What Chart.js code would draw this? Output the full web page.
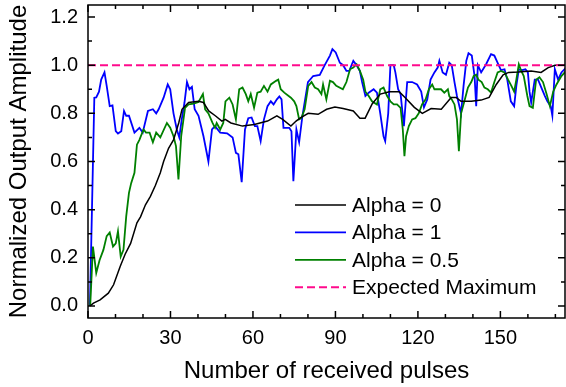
<!DOCTYPE html>
<html><head><meta charset="utf-8">
<script src="https://cdn.jsdelivr.net/npm/chart.js@4/dist/chart.umd.min.js"></script>
<style>html,body{margin:0;padding:0;background:#fff}</style>
</head><body>
<canvas id="c" width="566" height="387" style="width:566px;height:387px;display:block"></canvas>
<script>
const xTicks = [0, 30, 60, 90, 120, 150];
const yTicks = [0, 0.2, 0.4, 0.6, 0.8, 1.0, 1.2];
const xMinorTicks = [10, 20, 40, 50, 70, 80, 100, 110, 130, 140, 160, 170];
const yMinorTicks = [0.1, 0.3, 0.5, 0.7, 0.9, 1.1];
const seriesLabels = ['Alpha = 0', 'Alpha = 1', 'Alpha = 0.5', 'Expected Maximum'];

const alpha0X = [0.7, 2, 4.4, 7.4, 9.3, 11.7, 13.5, 15.5, 17.8, 19.1, 20.9, 22.7, 24.5, 26.3, 27.5, 29.3, 31.1, 33, 34.2, 36.6, 40.2, 42, 43.9, 46.3, 48.7, 49.9, 52, 56.2, 60.5, 65.3, 68.7, 70.8, 73.8, 75.7, 77.1, 80.1, 83.7, 86.8, 89.8, 92.8, 96.5, 98.9, 100.8, 103.4, 106.3, 109.6, 113.2, 115.4, 118.7, 121.6, 124.8, 128.5, 132.1, 133.9, 135.7, 139.4, 143, 145.9, 148.5, 151, 153, 156.5, 161.2, 164.8, 167.4, 169.9, 173.5];
const alpha0Y = [0, 0.012, 0.025, 0.053, 0.088, 0.164, 0.215, 0.26, 0.345, 0.37, 0.42, 0.455, 0.50, 0.553, 0.60, 0.655, 0.69, 0.76, 0.817, 0.845, 0.85, 0.845, 0.81, 0.79, 0.768, 0.775, 0.76, 0.747, 0.754, 0.768, 0.79, 0.775, 0.747, 0.768, 0.78, 0.80, 0.796, 0.817, 0.826, 0.82, 0.81, 0.78, 0.78, 0.84, 0.88, 0.89, 0.89, 0.865, 0.825, 0.80, 0.82, 0.817, 0.866, 0.866, 0.85, 0.85, 0.855, 0.866, 0.92, 0.96, 0.97, 0.972, 0.976, 0.97, 0.99, 1.0, 1.0];

const alpha1X = [0.7, 2.3, 3.0, 4.0, 4.8, 6.0, 6.8, 7.9, 8.9, 10.1, 10.9, 12.1, 13.1, 13.9, 14.9, 16.9, 18.7, 19.9, 21.8, 23.6, 24.8, 25.7, 27.5, 29, 29.9, 31.1, 32.3, 33.2, 34.1, 35.1, 36, 36.9, 37.8, 38.8, 40.2, 42, 43.8, 45.1, 46.2, 48.1, 50.6, 52.6, 53.8, 54.7, 55.9, 57.1, 58.3, 59.5, 60.7, 61.6, 62.8, 64, 65.3, 66.5, 67.5, 68.7, 69.6, 70.4, 71.1, 73.2, 74, 74.7, 75.8, 76.8, 78, 80, 81.9, 84.3, 86.1, 88, 88.9, 90.1, 91.6, 92.8, 94, 95, 96.5, 97.7, 98.9, 99.7, 100.9, 102.1, 103.9, 105.1, 106.3, 107.5, 108.1, 109.2, 110, 111.2, 111.8, 112.8, 113.7, 114.9, 116.1, 117.9, 119.7, 121.2, 122.2, 123.4, 124.6, 126, 127.2, 127.8, 129, 130.2, 131.4, 132.3, 133.3, 134.2, 135.7, 136.6, 137.6, 138.4, 139.6, 140.6, 141.2, 141.8, 143, 144.8, 146.6, 147.8, 149, 150.2, 151.5, 152.5, 153.8, 155, 155.8, 156.7, 157.9, 159.1, 160, 160.6, 161.2, 162.5, 163.7, 164.9, 166.2, 167.1, 168.3, 168.9, 169.8, 171, 172.2, 173.9];
const alpha1Y = [0, 0.865, 0.866, 0.89, 0.94, 0.97, 0.914, 0.83, 0.833, 0.726, 0.716, 0.726, 0.81, 0.79, 0.79, 0.72, 0.74, 0.72, 0.81, 0.817, 0.80, 0.817, 0.865, 0.92, 0.90, 0.80, 0.733, 0.70, 0.775, 0.845, 0.93, 0.90, 0.91, 0.817, 0.79, 0.705, 0.60, 0.733, 0.747, 0.72, 0.717, 0.70, 0.636, 0.63, 0.514, 0.733, 0.78, 0.783, 0.747, 0.747, 0.685, 0.775, 0.83, 0.85, 0.837, 0.858, 0.87, 0.858, 0.74, 0.74, 0.726, 0.518, 0.733, 0.68, 0.79, 0.93, 0.955, 0.96, 1.0, 1.04, 1.067, 1.053, 1.01, 1.0, 0.976, 0.976, 1.018, 1.0, 0.976, 0.93, 0.872, 0.886, 0.90, 0.886, 0.80, 0.705, 0.685, 0.80, 1.0, 1.0, 0.97, 0.90, 0.88, 0.747, 0.93, 0.93, 0.92, 0.89, 0.825, 0.858, 0.94, 0.97, 0.99, 1.018, 0.97, 0.96, 1.01, 1.0, 0.93, 0.872, 0.80, 0.914, 1.018, 1.05, 1.04, 0.955, 0.83, 1.0, 0.97, 1.004, 1.046, 1.04, 1.01, 0.98, 0.983, 0.94, 0.85, 0.83, 0.914, 0.983, 0.98, 0.983, 0.97, 0.89, 0.845, 0.94, 0.94, 0.907, 0.872, 0.85, 0.83, 0.79, 0.983, 0.94, 0.97, 0.99];

const alpha05X = [0.8, 1.8, 3.0, 4.2, 5.6, 6.8, 7.9, 9.1, 10.1, 10.9, 11.9, 12.9, 13.9, 14.9, 15.7, 16.9, 17.8, 18.7, 20.2, 21.1, 22.4, 23.6, 24.8, 26.3, 28.7, 29.9, 31.1, 32, 32.9, 33.9, 35.3, 36.6, 38.4, 40.2, 41.8, 42.6, 43.8, 45.3, 46.2, 46.8, 48.1, 49.2, 50, 51.4, 52.6, 53.8, 55, 56.2, 57.4, 58.3, 59.2, 60.4, 61.6, 62.8, 64, 65.3, 66.5, 68.4, 69.2, 70.1, 71.4, 73.8, 75, 75.8, 76.8, 77.6, 78.8, 80.1, 81.3, 82.5, 83.7, 84.9, 85.5, 86.7, 88, 89.1, 90.3, 92.7, 94, 95.3, 96.5, 97.7, 98.9, 100.1, 100.9, 102.1, 103.3, 105.1, 106.3, 107.5, 108.8, 110, 111.2, 112.4, 113.7, 114.5, 115.1, 115.7, 116.7, 117.9, 119.1, 120.3, 121.5, 122.8, 124, 125.2, 126, 128.4, 129.6, 130.9, 131.4, 132.3, 133.3, 134.2, 134.9, 135.7, 136.9, 138.2, 139.4, 140.3, 141.2, 142, 143.2, 144.2, 145.4, 146.6, 147.8, 149, 150.2, 151.5, 152.8, 154, 155, 155.8, 156.7, 157.6, 158.5, 159.8, 160.6, 161.8, 163, 164.2, 165.5, 166.8, 168, 169.2, 170.4, 172.2, 173.9];
const alpha05Y = [0, 0.247, 0.137, 0.19, 0.233, 0.29, 0.305, 0.247, 0.26, 0.31, 0.205, 0.233, 0.372, 0.47, 0.51, 0.553, 0.67, 0.69, 0.733, 0.72, 0.72, 0.68, 0.72, 0.70, 0.76, 0.74, 0.705, 0.664, 0.525, 0.705, 0.823, 0.837, 0.84, 0.847, 0.88, 0.817, 0.80, 0.76, 0.74, 0.76, 0.733, 0.76, 0.85, 0.865, 0.837, 0.775, 0.90, 0.907, 0.88, 0.85, 0.88, 0.823, 0.886, 0.89, 0.914, 0.89, 0.92, 0.935, 0.94, 0.90, 0.886, 0.865, 0.85, 0.83, 0.775, 0.78, 0.817, 0.914, 0.93, 0.907, 0.90, 0.88, 0.92, 0.858, 0.935, 0.93, 0.914, 0.90, 0.93, 0.983, 0.99, 1.004, 0.976, 0.94, 0.89, 0.872, 0.85, 0.837, 0.90, 0.907, 0.872, 0.85, 0.837, 0.837, 0.823, 0.733, 0.622, 0.705, 0.747, 0.775, 0.78, 0.80, 0.837, 0.858, 0.90, 0.92, 0.90, 0.90, 0.886, 0.90, 0.872, 0.858, 0.837, 0.775, 0.643, 0.80, 0.85, 0.907, 0.93, 0.955, 0.96, 0.94, 0.93, 0.907, 0.90, 0.886, 0.93, 0.97, 0.976, 0.97, 0.94, 0.914, 0.89, 0.94, 1.004, 0.976, 0.955, 0.872, 0.83, 0.823, 0.94, 0.95, 0.93, 0.88, 0.83, 0.89, 0.92, 0.955, 0.976];

const expectedX = [0, 173.5];
const expectedY = [1.0, 1.0];

const FONT = 'Liberation Sans, Arial, Helvetica, sans-serif';
const pts = (xs, ys) => xs.map((x, i) => ({x: x, y: ys[i]}));

const framePlugin = {
  id: 'frame',
  afterDatasetsDraw(chart) {
    const {ctx, chartArea: a, scales: {x, y}} = chart;
    ctx.save();
    ctx.strokeStyle = '#000';
    ctx.lineWidth = 1.5;
    ctx.strokeRect(a.left, a.top, a.right - a.left, a.bottom - a.top);
    ctx.beginPath();
    const tx = (v, len) => {
      const p = x.getPixelForValue(v);
      ctx.moveTo(p, a.bottom); ctx.lineTo(p, a.bottom - len);
      ctx.moveTo(p, a.top); ctx.lineTo(p, a.top + len);
    };
    const ty = (v, len) => {
      const p = y.getPixelForValue(v);
      ctx.moveTo(a.left, p); ctx.lineTo(a.left + len, p);
      ctx.moveTo(a.right, p); ctx.lineTo(a.right - len, p);
    };
    xTicks.forEach(v => tx(v, 7));
    xMinorTicks.forEach(v => tx(v, 4));
    yTicks.forEach(v => ty(v, 7));
    yMinorTicks.forEach(v => ty(v, 4));
    ctx.stroke();
    ctx.restore();
  },
  afterDraw(chart) {
    const {ctx} = chart;
    ctx.save();
    ctx.font = '21px ' + FONT;
    ctx.textBaseline = 'middle';
    ctx.textAlign = 'left';
    [0, 1, 2, 3].forEach((di, i) => {
      const ds = chart.data.datasets[di];
      const yy = 205 + i * 27.4;
      ctx.beginPath();
      ctx.strokeStyle = ds.borderColor;
      ctx.lineWidth = ds.borderWidth;
      ctx.setLineDash(ds.borderDash || []);
      ctx.moveTo(295, yy); ctx.lineTo(346, yy);
      ctx.stroke();
      ctx.setLineDash([]);
      ctx.fillStyle = '#000';
      ctx.fillText(ds.label, 352, yy + 1);
    });
    ctx.restore();
  }
};

new Chart(document.getElementById('c'), {
  type: 'line',
  data: {
    datasets: [
      {label: seriesLabels[0], data: pts(alpha0X, alpha0Y), borderColor: '#000000', borderWidth: 1.5, order: 1},
      {label: seriesLabels[1], data: pts(alpha1X, alpha1Y), borderColor: '#0000FF', borderWidth: 1.8, order: 3},
      {label: seriesLabels[2], data: pts(alpha05X, alpha05Y), borderColor: '#008000', borderWidth: 1.8, order: 2},
      {label: seriesLabels[3], data: pts(expectedX, expectedY), borderColor: '#FF0A8C', borderWidth: 2, borderDash: [8, 4], order: 0}
    ]
  },
  options: {
    responsive: false,
    animation: false,
    devicePixelRatio: 1,
    layout: {padding: {top: 5, right: 1, left: 0, bottom: 0}},
    plugins: {legend: {display: false}, tooltip: {enabled: false}},
    elements: {point: {radius: 0, hoverRadius: 0}, line: {tension: 0, fill: false}},
    scales: {
      x: {
        type: 'linear', min: 0, max: 173.5,
        afterBuildTicks: s => { s.ticks = xTicks.map(v => ({value: v})); },
        afterFit: s => { s.height = 69; s.paddingLeft = 0; s.paddingRight = 0; },
        grid: {display: false, drawTicks: false},
        border: {display: false},
        ticks: {padding: 8, color: '#000', maxRotation: 0, autoSkip: false, font: {family: FONT, size: 20}},
        title: {display: true, text: 'Number of received pulses', color: '#000', font: {family: FONT, size: 24}, padding: {top: 0, bottom: 1}}
      },
      y: {
        type: 'linear', min: -0.05, max: 1.25,
        afterBuildTicks: s => { s.ticks = yTicks.map(v => ({value: v})); },
        afterFit: s => { s.width = 88; s.paddingTop = 0; s.paddingBottom = 0; },
        grid: {display: false, drawTicks: false},
        border: {display: false},
        ticks: {padding: 10, color: '#000', font: {family: FONT, size: 20}, callback: v => Number(v).toFixed(1)},
        title: {display: true, text: 'Normalized Output Amplitude', color: '#000', font: {family: FONT, size: 24}, padding: {top: 5, bottom: 0}}
      }
    }
  },
  plugins: [framePlugin]
});
</script>
</body></html>
